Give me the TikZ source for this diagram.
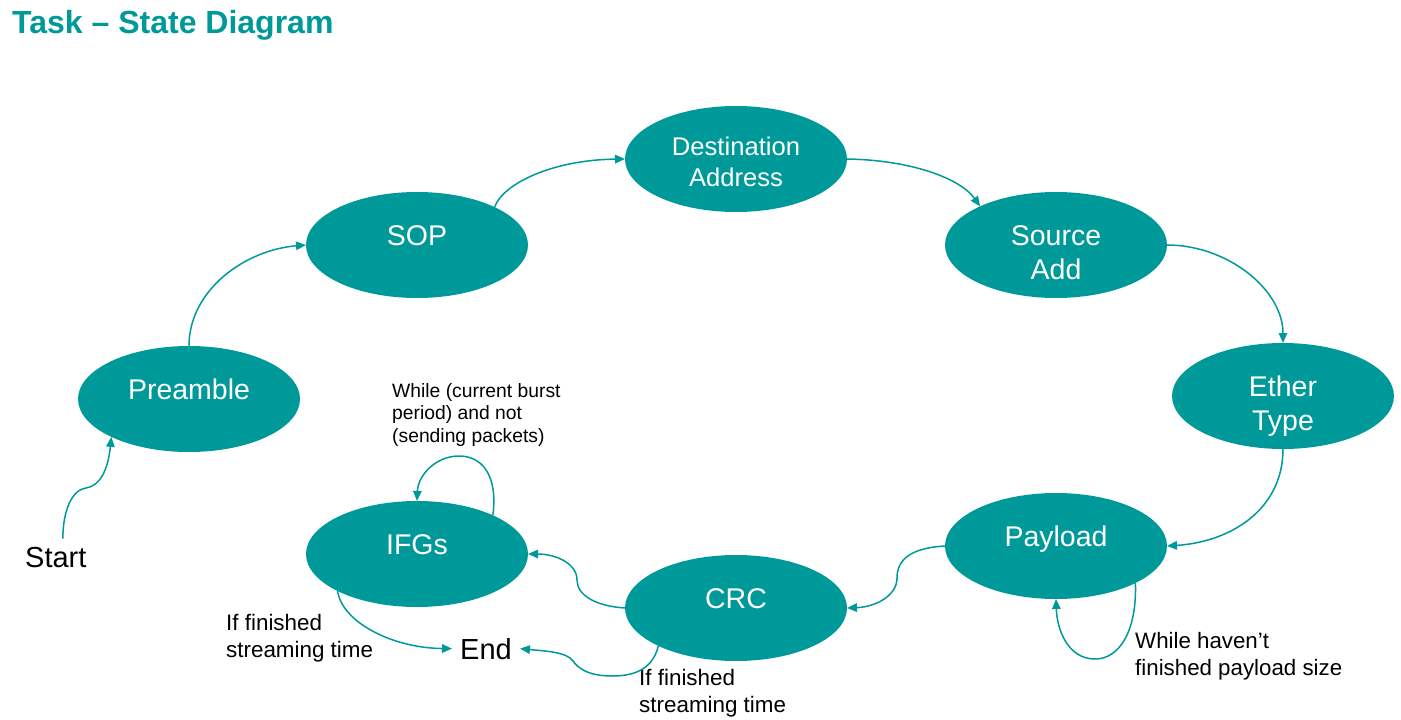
\documentclass[tikz,border=0pt]{standalone}
\usepackage{fontspec}
\setmainfont{Liberation Sans}
\usetikzlibrary{arrows.meta,shapes.geometric}
\definecolor{teal1}{RGB}{0,153,153}
\begin{document}
\begin{tikzpicture}[x=1pt,y=-1pt,
  state/.style={ellipse, fill=teal1, draw=none, minimum width=222pt, minimum height=106pt, inner sep=0pt, outer sep=0pt},
  stxt/.style={text=white, anchor=base, inner sep=0pt, font=\fontsize{28.5}{34}\selectfont},
  conn/.style={draw=teal1, line width=1.5pt, -{Triangle[length=10pt,width=8.5pt]}},
  lbl/.style={text=black, anchor=base west, inner sep=0pt}]
\useasboundingbox (0,0) rectangle (1401,720);

\node[anchor=base west, inner sep=0pt, text=teal1, font=\bfseries\fontsize{32}{36}\selectfont] (title) at (12,33) {Task \textendash{} State Diagram};

\node[state] (pre) at (189,399) {};
\node[state] (sop) at (417,245) {};
\node[state] (dest) at (736,159) {};
\node[state] (src) at (1056,245) {};
\node[state] (eth) at (1283,396) {};
\node[state] (pay) at (1056,546) {};
\node[state] (crc) at (736,608) {};
\node[state] (ifg) at (417,554) {};

\node[stxt] (pre-t) at (pre.center) {Preamble};
\node[stxt] (sop-t) at (sop.center) {SOP};
\node[stxt, font=\fontsize{25.6}{31}\selectfont] (dest-t) at (736,155) {\begin{tabular}[t]{@{}c@{}}Destination\\Address\end{tabular}};
\node[stxt] (src-t) at (src.center) {\begin{tabular}[t]{@{}c@{}}Source\\Add\end{tabular}};
\node[stxt] (eth-t) at (eth.center) {\begin{tabular}[t]{@{}c@{}}Ether\\Type\end{tabular}};
\node[stxt] (pay-t) at (pay.center) {Payload};
\node[stxt] (crc-t) at (crc.center) {CRC};
\node[stxt] (ifg-t) at (ifg.center) {IFGs};

\node[lbl, font=\fontsize{19.3}{22.7}\selectfont] (l-ifg) at (392,397) {\begin{tabular}[t]{@{}l@{}}While (current burst\\period) and not\\(sending packets)\end{tabular}};
\node[lbl, font=\fontsize{22.4}{27}\selectfont] (l-ifgend) at (226,630) {\begin{tabular}[t]{@{}l@{}}If finished\\streaming time\end{tabular}};
\node[lbl, font=\fontsize{22.4}{27}\selectfont] (l-crcend) at (639,685) {\begin{tabular}[t]{@{}l@{}}If finished\\streaming time\end{tabular}};
\node[lbl, font=\fontsize{22.3}{27}\selectfont] (l-pay) at (1135,648) {\begin{tabular}[t]{@{}l@{}}While haven’t\\finished payload size\end{tabular}};

\node[anchor=base west, inner xsep=0pt, inner ysep=8pt, font=\fontsize{29}{34}\selectfont] (start) at (25,567) {Start};
\node[anchor=base west, inner xsep=8pt, inner ysep=0pt, font=\fontsize{29}{34}\selectfont] (endst) at (452,659) {End};

\draw[conn] ([xshift=7pt]start.north) .. controls (63,510) and (72,490) .. (86,488) .. controls (100,486) and (108,470) .. (pre.206);
\draw[conn] (pre.north) .. controls (189,290) and (245,250) .. (sop.west);
\draw[conn] (sop.26) .. controls (502,185) and (550,160) .. (dest.west);
\draw[conn] (dest.east) .. controls (910,160) and (960,178) .. (src.153);
\draw[conn] (src.east) .. controls (1228,245) and (1283,290) .. (eth.north);
\draw[conn] (eth.south) .. controls (1283,510) and (1230,542) .. (pay.east);
\draw[conn] (pay.west) .. controls (910,548) and (897,560) .. (897,578) .. controls (897,596) and (875,607) .. (crc.east);
\draw[conn] (crc.west) .. controls (595,606) and (577,595) .. (577,580) .. controls (577,563) and (555,554) .. (ifg.east);
\draw[conn] (ifg.27) .. controls (498,475) and (482,456) .. (459,456) .. controls (436,456) and (418,475) .. (ifg.north);
\draw[conn] (ifg.205) .. controls (342,622) and (392,648) .. (endst.west);
\draw[conn] (crc.206) .. controls (652,672) and (630,676) .. (612,676) .. controls (588,676) and (578,668) .. (573,661) .. controls (567,652) and (545,651) .. (endst.east);
\draw[conn] (pay.-25) .. controls (1137,630) and (1120,659) .. (1095,659) .. controls (1068,659) and (1057,630) .. (pay.south);
\end{tikzpicture}
\end{document}
